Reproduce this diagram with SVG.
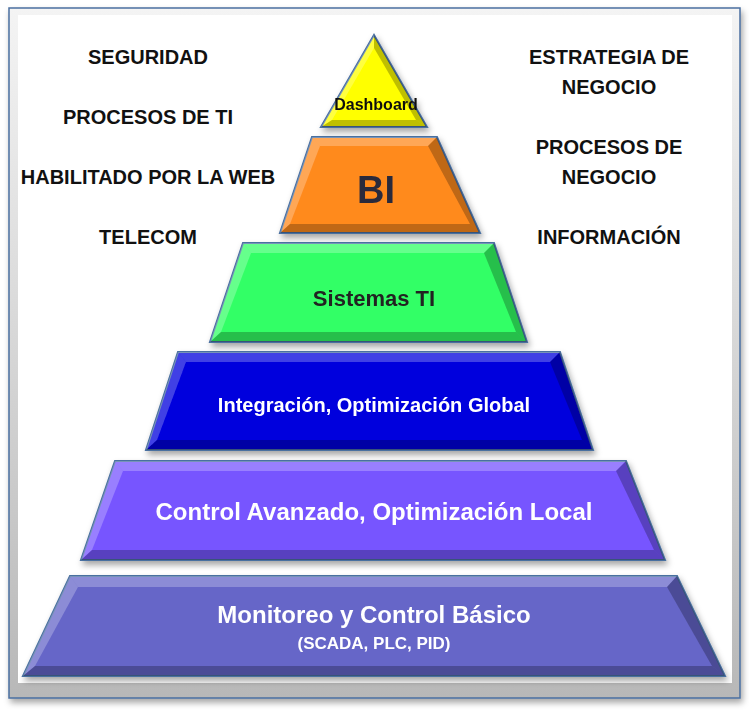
<svg xmlns="http://www.w3.org/2000/svg" width="749" height="712" viewBox="0 0 749 712">
<defs>
<filter id="sh" x="-10%" y="-10%" width="120%" height="130%"><feDropShadow dx="2" dy="4" stdDeviation="3" flood-color="#000" flood-opacity="0.35"/></filter>
<linearGradient id="fr" x1="0" y1="0" x2="0" y2="1"><stop offset="0" stop-color="#f4f4f4"/><stop offset="1" stop-color="#b8b8b8"/></linearGradient>
<style>
.t{font-family:"Liberation Sans",Arial,sans-serif;font-weight:bold;text-anchor:middle}
.s{font-size:20px;fill:#111}
.lvl{stroke:#4a6fa0;stroke-width:2}
.hl{fill:#fff;opacity:0.25}
.dk{fill:#000;opacity:0.25}
</style>
</defs>
<rect x="0" y="0" width="749" height="712" fill="#fff"/>
<g id="frame">
<rect x="9" y="8" width="731" height="690" fill="url(#fr)" stroke="#4a6fa0" stroke-width="1.5" filter="url(#sh)"/>
<rect x="18" y="15" width="714" height="668" fill="#fff"/>
</g>
<g id="labels-left" class="t s">
<text x="148" y="64">SEGURIDAD</text>
<text x="148" y="124">PROCESOS DE TI</text>
<text x="148" y="184">HABILITADO POR LA WEB</text>
<text x="148" y="244">TELECOM</text>
</g>
<g id="labels-right" class="t s">
<text x="609" y="64">ESTRATEGIA DE</text>
<text x="609" y="94">NEGOCIO</text>
<text x="609" y="154">PROCESOS DE</text>
<text x="609" y="184">NEGOCIO</text>
<text x="609" y="244">INFORMACIÓN</text>
</g>
<g id="dashboard" filter="url(#sh)">
<polygon class="lvl" points="374,35 427,127 321,127" fill="#ffff00"/>
<polygon class="dk" points="374,35 427,127 416,120 374,48"/>
<polygon class="hl" points="374,35 321,127 332,120 374,48"/>
<polygon class="dk" points="321,127 427,127 416,120 332,120"/>
<text class="t" x="376" y="110" font-size="16" fill="#111">Dashboard</text>
</g>
<g id="bi" filter="url(#sh)">
<polygon class="lvl" points="312,137 437,137 480,233 280,233" fill="#ff8a1f"/>
<polygon class="hl" points="312,137 437,137 428,146 320,146"/>
<polygon class="hl" points="312,137 320,146 290,224 280,233" opacity="0.15"/>
<polygon class="dk" points="437,137 480,233 470,224 428,146"/>
<polygon class="dk" points="280,233 480,233 470,224 290,224"/>
<text class="t" x="376" y="203" font-size="38" fill="#2b2b3b">BI</text>
</g>
<g id="sistemas" filter="url(#sh)">
<polygon class="lvl" points="243,243 494,243 527,342 210,342" fill="#33ff66"/>
<polygon class="hl" points="243,243 494,243 484,253 251,253"/>
<polygon class="hl" points="243,243 251,253 221,332 210,342" opacity="0.15"/>
<polygon class="dk" points="494,243 527,342 516,332 484,253"/>
<polygon class="dk" points="210,342 527,342 516,332 221,332"/>
<text class="t" x="374" y="306" font-size="22" fill="#222">Sistemas TI</text>
</g>
<g id="integracion" filter="url(#sh)">
<polygon class="lvl" points="178,352 560,352 593,450 146,450" fill="#0000dd"/>
<polygon class="hl" points="178,352 560,352 550,362 186,362"/>
<polygon class="hl" points="178,352 186,362 157,440 146,450" opacity="0.15"/>
<polygon class="dk" points="560,352 593,450 582,440 550,362"/>
<polygon class="dk" points="146,450 593,450 582,440 157,440"/>
<text class="t" x="374" y="412" font-size="20" fill="#fff">Integración, Optimización Global</text>
</g>
<g id="control" filter="url(#sh)">
<polygon class="lvl" points="115,461 626,461 665,560 81,560" fill="#7755ff"/>
<polygon class="hl" points="115,461 626,461 616,471 123,471"/>
<polygon class="hl" points="115,461 123,471 92,550 81,560" opacity="0.15"/>
<polygon class="dk" points="626,461 665,560 654,550 616,471"/>
<polygon class="dk" points="81,560 665,560 654,550 92,550"/>
<text class="t" x="374" y="520" font-size="24" fill="#fff">Control Avanzado, Optimización Local</text>
</g>
<g id="monitoreo" filter="url(#sh)">
<polygon class="lvl" points="70,576 677,576 725,676 23,676" fill="#6666c8"/>
<polygon class="hl" points="70,576 677,576 667,587 78,587"/>
<polygon class="hl" points="70,576 78,587 35,666 23,676" opacity="0.15"/>
<polygon class="dk" points="677,576 725,676 712,666 667,587"/>
<polygon class="dk" points="23,676 725,676 712,666 35,666"/>
<text class="t" x="374" y="623" font-size="24" fill="#fff">Monitoreo y Control Básico</text>
<text class="t" x="374" y="649" font-size="17" fill="#fff">(SCADA, PLC, PID)</text>
</g>
<g id="connectors"/>
</svg>
